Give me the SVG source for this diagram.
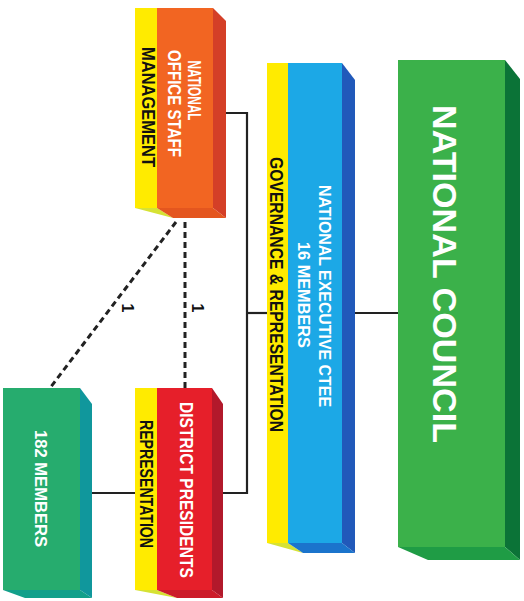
<svg xmlns="http://www.w3.org/2000/svg" width="524" height="601" viewBox="0 0 524 601">
<style>
.w{fill:#ffffff;font-family:"Liberation Sans",Arial,sans-serif;font-weight:bold}
.k{fill:#111111;font-family:"Liberation Sans",Arial,sans-serif;font-weight:bold}
.n{fill:#111111;font-family:"Liberation Sans",Arial,sans-serif;font-weight:bold}
.ln{fill:none;stroke:#222222;stroke-width:2.2}
.dl{fill:none;stroke:#222222;stroke-width:3;stroke-dasharray:6,4}
.yl{fill:#FFEB00}
.yb{fill:#D6E234}
</style>
<rect width="524" height="601" fill="#ffffff"/>
<g id="connectors">
<polyline class="ln" points="226,113 247,113 247,493 223,493"/>
<line class="ln" x1="247" y1="313" x2="267" y2="313"/>
<line class="ln" x1="355" y1="313" x2="398" y2="313"/>
<line class="ln" x1="92" y1="493" x2="135" y2="493"/>
<line class="dl" x1="185" y1="222" x2="185" y2="388"/>
<line class="dl" x1="176" y1="222" x2="50" y2="388"/>
<text class="n" font-size="16" text-anchor="middle" transform="translate(122,308) rotate(90)">1</text>
<text class="n" font-size="16" text-anchor="middle" transform="translate(192,308) rotate(90)">1</text>
</g>
<g id="node-office">
<rect class="yl" x="135" y="8" width="22" height="200"/>
<rect x="157" y="8" width="56" height="200" fill="#F26522"/>
<polygon points="213,8 226,21 226,218 213,208" fill="#D43F27"/>
<polygon class="yb" points="135,208 157,208 173,218"/>
<polygon points="157,208 213,208 226,218 173,218" fill="#E4561F"/>
<text class="w" font-size="18" text-anchor="middle" textLength="60" lengthAdjust="spacingAndGlyphs" transform="translate(188,90.5) rotate(90)">NATIONAL</text>
<text class="w" font-size="18" text-anchor="middle" textLength="107" lengthAdjust="spacingAndGlyphs" transform="translate(168,103.5) rotate(90)">OFFICE STAFF</text>
<text class="k" font-size="18" text-anchor="middle" textLength="120" lengthAdjust="spacingAndGlyphs" transform="translate(142,107) rotate(90)">MANAGEMENT</text>
</g>
<g id="node-exec">
<rect class="yl" x="267" y="63" width="21" height="480"/>
<rect x="288" y="63" width="54" height="480" fill="#1CA8E6"/>
<polygon points="342,63 355,80 355,553 342,543" fill="#2159BA"/>
<polygon class="yb" points="267,543 288,543 303,553"/>
<polygon points="288,543 342,543 355,553 303,553" fill="#1B74CC"/>
<text class="w" font-size="17" text-anchor="middle" textLength="222" lengthAdjust="spacingAndGlyphs" transform="translate(319,296) rotate(90)">NATIONAL EXECUTIVE CTEE</text>
<text class="w" font-size="17" text-anchor="middle" textLength="106" lengthAdjust="spacingAndGlyphs" transform="translate(298,295) rotate(90)">16 MEMBERS</text>
<text class="k" font-size="18" text-anchor="middle" textLength="275" lengthAdjust="spacingAndGlyphs" transform="translate(270,294.5) rotate(90)">GOVERNANCE &amp; REPRESENTATION</text>
</g>
<g id="node-council">
<rect x="398" y="60" width="107" height="487" fill="#3BB14A"/>
<polygon points="505,60 520,79 520,560 505,547" fill="#0B7337"/>
<polygon points="398,547 505,547 520,560 428,560" fill="#1F9C45"/>
<text class="w" font-size="33" text-anchor="middle" textLength="338" lengthAdjust="spacingAndGlyphs" transform="translate(433,274) rotate(90)">NATIONAL COUNCIL</text>
</g>
<g id="node-members">
<rect x="3" y="388" width="77" height="202" fill="#26AC6E"/>
<polygon points="80,388 92,404 92,598 80,590" fill="#10979C"/>
<polygon points="3,590 80,590 92,598 25,598" fill="#13A08A"/>
<text class="w" font-size="17" text-anchor="middle" textLength="117" lengthAdjust="spacingAndGlyphs" transform="translate(35,488.5) rotate(90)">182 MEMBERS</text>
</g>
<g id="node-district">
<rect class="yl" x="135" y="388" width="22" height="202"/>
<rect x="157" y="388" width="55" height="202" fill="#E61F2A"/>
<polygon points="212,388 223,404 223,598 212,590" fill="#B2192B"/>
<polygon class="yb" points="135,590 157,590 177,598"/>
<polygon points="157,590 212,590 223,598 177,598" fill="#CC1C2A"/>
<text class="w" font-size="18" text-anchor="middle" textLength="176" lengthAdjust="spacingAndGlyphs" transform="translate(180,490) rotate(90)">DISTRICT PRESIDENTS</text>
<text class="k" font-size="18" text-anchor="middle" textLength="128" lengthAdjust="spacingAndGlyphs" transform="translate(140,484) rotate(90)">REPRESENTATION</text>
</g>
</svg>
